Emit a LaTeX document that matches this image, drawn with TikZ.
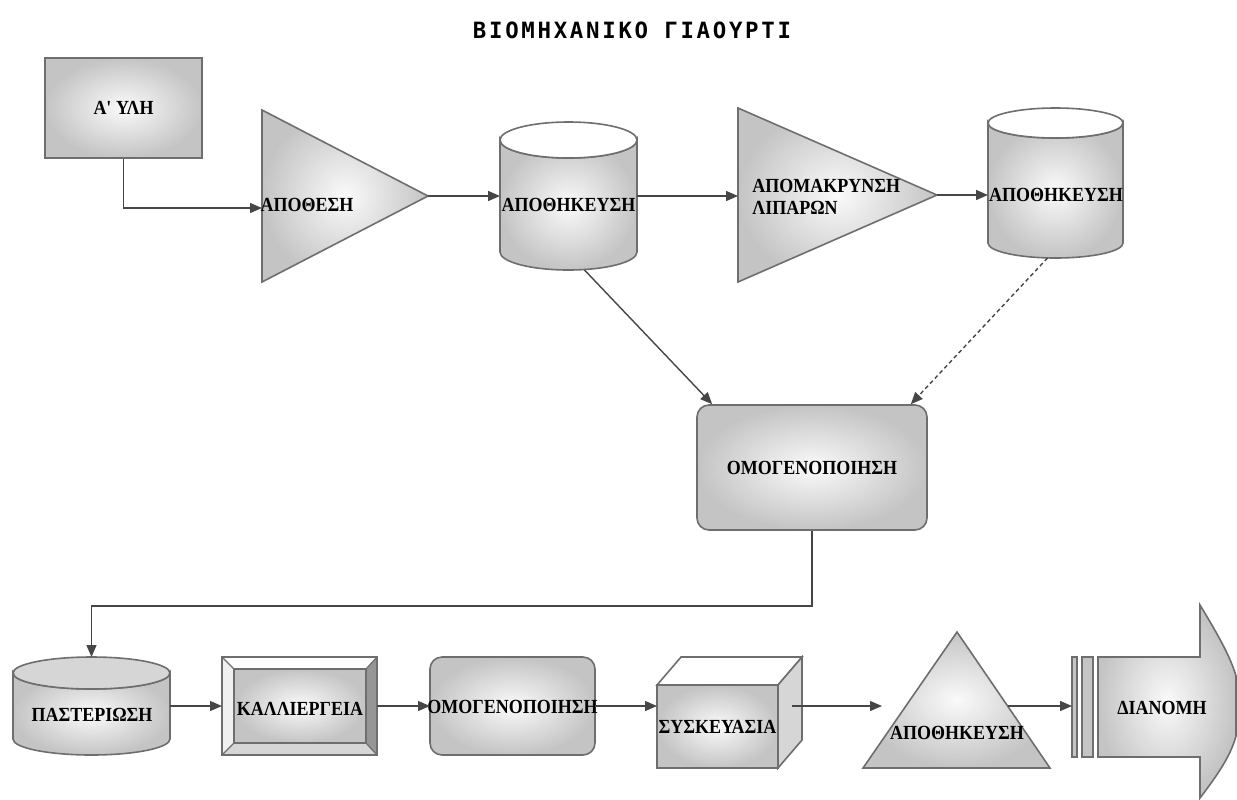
\documentclass[tikz,border=0pt]{standalone}
\usepackage{fontspec}
\usepackage{xcolor}
\usepackage{tikz}
\usetikzlibrary{arrows.meta,calc}
\setmainfont{Liberation Serif}
\newfontfamily\headfont[LetterSpace=12]{DejaVu Sans Mono}
\newfontfamily\boxfont[FakeStretch=0.9]{Liberation Serif}
\definecolor{shapegray}{RGB}{196,196,196}
\definecolor{centergray}{RGB}{250,250,250}
\definecolor{edgegray}{RGB}{110,110,110}
\definecolor{linegray}{RGB}{70,70,70}
\definecolor{darkbevel}{RGB}{150,150,150}
\definecolor{paleface}{RGB}{214,214,214}

\tikzset{
  shapefill/.style={draw=edgegray,line width=0.8pt,inner color=centergray,outer color=shapegray},
  boxlabel/.style={font=\boxfont\bfseries\fontsize{10}{11}\selectfont,inner sep=0pt,align=center},
  anchorbox/.style={inner sep=0pt,outer sep=0pt},
  flow/.style={draw=linegray,line width=0.7pt,-{Triangle[length=6pt,width=5pt]}},
}

\begin{document}
\begin{tikzpicture}[x=0.5pt,y=-0.5pt]
\useasboundingbox (0,0) rectangle (1237,799);
% Title
\node[font=\headfont\bfseries\fontsize{11.2}{13}\selectfont] (title) at (632,30) {ΒΙΟΜΗΧΑΝΙΚΟ ΓΙΑΟΥΡΤΙ};

% Raw material
\node[shapefill,boxlabel,minimum width=78.5pt,minimum height=50pt] (raw) at (123.5,108) {Α' ΥΛΗ};

% Settling (triangle)
\path[shapefill] (262,110) -- (428,196) -- (262,282) -- cycle;
\node[anchorbox,minimum width=83pt,minimum height=86pt] (settle) at (345,196) {};
\node[boxlabel] (settle-txt) at (307,205) {ΑΠΟΘΕΣΗ};

% First storage tank
\path[shapefill] (500,140) -- (500,252) arc[start angle=180,end angle=0,x radius=68.5,y radius=18] -- (637,140) arc[start angle=0,end angle=180,x radius=68.5,y radius=18] -- cycle;
\draw[edgegray,line width=0.8pt,fill=white] (568.5,140) ellipse[x radius=68.5,y radius=18];
\node[anchorbox,minimum width=68.5pt,minimum height=74pt] (tank1) at (568.5,196) {};
\node[boxlabel] (tank1-txt) at (568.5,205) {ΑΠΟΘΗΚΕΥΣΗ};

% Fat removal (triangle)
\path[shapefill] (738,108) -- (937,195) -- (738,282) -- cycle;
\node[anchorbox,minimum width=99.5pt,minimum height=87pt] (skim) at (837.5,195) {};
\node[boxlabel,align=left,anchor=west] (skim-txt) at (752,197) {ΑΠΟΜΑΚΡΥΝΣΗ\\ΛΙΠΑΡΩΝ};

% Second storage tank
\path[shapefill] (988,123) -- (988,243) arc[start angle=180,end angle=0,x radius=67.5,y radius=15] -- (1123,123) arc[start angle=0,end angle=180,x radius=67.5,y radius=15] -- cycle;
\draw[edgegray,line width=0.8pt,fill=white] (1055.5,123) ellipse[x radius=67.5,y radius=15];
\node[anchorbox,minimum width=67.5pt,minimum height=75pt] (tank2) at (1055.5,183) {};
\node[boxlabel] (tank2-txt) at (1056,195) {ΑΠΟΘΗΚΕΥΣΗ};

% Homogenisation
\node[shapefill,boxlabel,rounded corners=6pt,minimum width=115pt,minimum height=62.5pt] (mix) at (812,467.5) {ΟΜΟΓΕΝΟΠΟΙΗΣΗ};

% Pasteurisation tank
\path[shapefill] (13,673) -- (13,739) arc[start angle=180,end angle=0,x radius=78.5,y radius=16] -- (170,673) arc[start angle=0,end angle=180,x radius=78.5,y radius=16] -- cycle;
\draw[edgegray,line width=0.8pt,fill=paleface] (91.5,673) ellipse[x radius=78.5,y radius=16];
\node[anchorbox,minimum width=78.5pt,minimum height=49pt] (paster) at (91.5,706) {};
\node[boxlabel] (paster-txt) at (92,715) {ΠΑΣΤΕΡΙΩΣΗ};

% Culture (bevelled box)
\fill[white] (222,657) -- (377,657) -- (366,669) -- (234,669) -- cycle;
\fill[white!94!black] (222,657) -- (234,669) -- (234,743) -- (222,755) -- cycle;
\fill[paleface] (222,755) -- (234,743) -- (366,743) -- (377,755) -- cycle;
\fill[darkbevel] (377,657) -- (366,669) -- (366,743) -- (377,755) -- cycle;
\path[shapefill] (234,669) rectangle (366,743);
\draw[edgegray,line width=0.6pt] (222,657) -- (234,669) (377,657) -- (366,669) (222,755) -- (234,743) (377,755) -- (366,743);
\node[anchorbox,draw=edgegray,line width=0.8pt,minimum width=77.5pt,minimum height=49pt] (culture) at (299.5,706) {};
\node[boxlabel] (culture-txt) at (300,709) {ΚΑΛΛΙΕΡΓΕΙΑ};

% Second homogenisation
\node[shapefill,anchorbox,rounded corners=6pt,minimum width=82.5pt,minimum height=49pt] (mix2) at (512.5,706) {};
\node[boxlabel] (mix2-txt) at (512.5,707) {ΟΜΟΓΕΝΟΠΟΙΗΣΗ};

% Packing (cube)
\path[shapefill] (657,685) rectangle (778,768);
\draw[edgegray,line width=0.8pt,fill=white] (657,685) -- (681,657) -- (802,657) -- (778,685) -- cycle;
\draw[edgegray,line width=0.8pt,fill=paleface] (778,685) -- (802,657) -- (802,740) -- (778,768) -- cycle;
\node[anchorbox,minimum width=72.5pt,minimum height=55.5pt] (pack) at (729.5,712.5) {};
\node[boxlabel] (pack-txt) at (717.5,727) {ΣΥΣΚΕΥΑΣΙΑ};

% Final storage (triangle)
\path[shapefill] (863,768) -- (957,632) -- (1050,768) -- cycle;
\node[anchorbox,minimum width=93.5pt,minimum height=68pt] (store) at (956.5,700) {};
\node[boxlabel] (store-txt) at (957,733) {ΑΠΟΘΗΚΕΥΣΗ};

% Distribution (arrow)
\draw[edgegray,line width=0.8pt,fill=shapegray] (1072,657) rectangle (1077,757);
\draw[edgegray,line width=0.8pt,fill=shapegray] (1082,657) rectangle (1093,757);
\path[shapefill] (1098,657) -- (1200,657) -- (1200,605) .. controls (1215,630) and (1230,655) .. (1236,676) -- (1236,736) .. controls (1230,758) and (1215,778) .. (1200,798) -- (1200,757) -- (1098,757) -- cycle;
\node[anchorbox,minimum width=82.5pt,minimum height=96.5pt] (distrib) at (1154.5,701.5) {};
\node[boxlabel] (distrib-txt) at (1162,708) {ΔΙΑΝΟΜΗ};

% Connectors
\draw[flow] (raw.south) |- ([yshift=-6pt]settle.west);
\draw[flow] (settle.east) -- (tank1.west);
\draw[flow] (tank1.east) -- (tank1.east -| skim.west);
\draw[flow] (skim.east) -- (skim.east -| tank2.west);
\draw[flow] ([xshift=8pt]tank1.south) -- ([xshift=8pt]mix.north west);
\draw[flow,dash pattern=on 2pt off 1.5pt] ([xshift=-4pt]tank2.south) -- ([xshift=-8.5pt]mix.north east);
\draw[flow] (mix.south) -- ++(0,75) -| (paster.north);
\draw[flow] (paster.east) -- (culture.west);
\draw[flow] (culture.east) -- (mix2.west);
\draw[flow] (mix2.east) -- (mix2.east -| pack.west);
\draw[flow] ([xshift=-5pt]mix2.east -| pack.east) -- ($(store.west)+(19,6)$);
\draw[flow] ($(store.east)+(-42,6)$) -- ($(distrib.west)+(0,4.5)$);
\end{tikzpicture}
\end{document}
